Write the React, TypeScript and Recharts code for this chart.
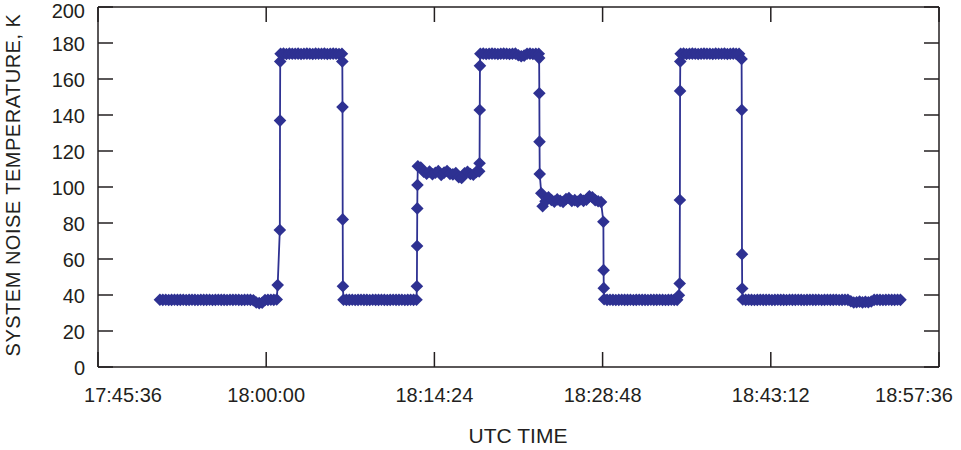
import React from "react";
import { LineChart, Line, XAxis, YAxis } from "recharts";

const FONT = "'Liberation Sans', Arial, Helvetica, sans-serif";
const INK = "#231f20";
const BLUE = "#2e3192";

// ---- axis ticks ----
const xTickLabels = ["17:45:36", "18:00:00", "18:14:24", "18:28:48", "18:43:12", "18:57:36"];
const yTicks = [0, 20, 40, 60, 80, 100, 120, 140, 160, 180, 200];
const yDomain = [0, 200];

// ---- data (system noise temperature, K) ----
// plateaus are sampled every SAMPLE_STEP seconds from their start time
const SAMPLE_STEP = 15;

const plateauAStart = "17:50:54";
const plateauA = [
  37.4, 37.3, 37.4, 37.2, 37.3, 37.4, 37.3, 37.3, 37.4, 37.2,
  37.3, 37.4, 37.3, 37.2, 37.4, 37.3, 37.3, 37.4, 37.2, 37.3,
  37.4, 37.3, 37.3, 37.2, 37.4, 37.3, 37.4, 37.3, 37.2, 37.3,
  37.4, 37.3, 37.1, 35.8, 35.5, 35.7, 37.2, 37.3, 37.4, 37.3,
  37.5,
];
const riseATimes = ["18:00:59", "18:01:10", "18:01:11", "18:01:12"];
const riseA = [45.5, 76.1, 136.9, 169.7];

const plateauBStart = "18:01:14";
const plateauB = [
  174.0, 174.1, 173.9, 174.1, 174.0, 174.0, 174.1, 173.9, 174.0, 174.1,
  174.0, 173.9, 174.1, 174.0, 174.0, 174.1, 173.9, 174.0, 174.1, 174.0,
  173.9, 174.0,
];
const fallBTimes = ["18:06:31", "18:06:32", "18:06:33", "18:06:34"];
const fallB = [169.7, 144.4, 82.0, 44.9];

const plateauCStart = "18:06:37";
const plateauC = [
  37.4, 37.3, 37.3, 37.4, 37.2, 37.3, 37.4, 37.3, 37.3, 37.2,
  37.4, 37.3, 37.3, 37.4, 37.3, 37.2, 37.3, 37.4, 37.3, 37.3,
  37.4, 37.2, 37.3, 37.4, 37.3, 37.4,
];
const riseCTimes = ["18:12:54", "18:12:55", "18:12:56", "18:12:57"];
const riseC = [44.9, 67.2, 88.1, 101.1];

const plateauDStart = "18:12:59";
const plateauD = [
  111.5, 110.8, 108.5, 107.4, 108.6, 107.1, 107.9, 108.8, 106.7, 108.0,
  108.9, 107.3, 107.0, 107.8, 105.4, 105.0, 107.6, 108.5, 107.2, 106.8,
  108.4, 108.7,
];
const riseDTimes = ["18:18:16", "18:18:17", "18:18:18"];
const riseD = [113.2, 142.8, 167.3];

const plateauEStart = "18:18:20";
const plateauE = [
  174.0, 174.1, 173.9, 174.0, 174.1, 174.0, 173.9, 174.0, 174.1, 174.0,
  173.9, 174.0, 174.1, 173.2, 172.6, 173.0, 174.0, 174.1, 173.9, 174.0,
  174.0,
];
const fallETimes = ["18:23:22", "18:23:23", "18:23:24", "18:23:25", "18:23:33"];
const fallE = [171.6, 152.1, 125.2, 107.2, 96.5];

const plateauFStart = "18:23:40";
const plateauF = [
  89.3, 92.1, 94.3, 92.8, 91.9, 93.1, 92.3, 91.7, 93.3, 93.9,
  92.2, 92.7, 91.8, 93.2, 92.3, 92.9, 94.8, 94.3, 92.7, 92.1,
  91.7,
];
const fallFTimes = ["18:28:52", "18:28:53", "18:28:54"];
const fallF = [80.7, 53.8, 43.8];

const plateauGStart = "18:28:56";
const plateauG = [
  37.6, 37.3, 37.4, 37.3, 37.2, 37.3, 37.4, 37.3, 37.3, 37.4,
  37.2, 37.3, 37.4, 37.3, 37.3, 37.2, 37.4, 37.3, 37.3, 37.4,
  37.3, 37.2, 37.3, 37.4, 37.3, 37.3,
];
const riseGTimes = ["18:35:20", "18:35:24", "18:35:25", "18:35:26", "18:35:27"];
const riseG = [39.9, 46.4, 92.8, 153.4, 169.7];

const plateauHStart = "18:35:29";
const plateauH = [
  174.0, 174.1, 173.9, 174.0, 174.1, 174.0, 173.9, 174.0, 174.1, 174.0,
  174.0, 173.9, 174.1, 174.0, 174.0, 174.1, 173.9, 174.0, 174.1, 174.0,
  174.0,
];
const fallHTimes = ["18:40:42", "18:40:43", "18:40:44", "18:40:45"];
const fallH = [171.1, 142.8, 62.7, 43.6];

const plateauIStart = "18:40:48";
const plateauI = [
  37.5, 37.3, 37.4, 37.3, 37.2, 37.3, 37.4, 37.3, 37.3, 37.4,
  37.2, 37.3, 37.4, 37.3, 37.3, 37.2, 37.4, 37.3, 37.3, 37.4,
  37.3, 37.2, 37.3, 37.4, 37.3, 37.3, 37.4, 37.2, 37.3, 37.4,
  37.3, 37.3, 37.4, 37.2, 37.3, 37.4, 37.3, 36.5, 35.8, 36.0,
  36.3, 35.9, 36.2, 36.0, 36.4, 37.3, 37.4, 37.3, 37.2, 37.3,
  37.4, 37.3, 37.3, 37.4, 37.3,
];

// ---- build the table ----
const toSec = (s: string) => {
  const [h, m, sec] = s.split(":").map(Number);
  return h * 3600 + m * 60 + sec;
};
const pad = (n: number) => String(n).padStart(2, "0");
const fmtTime = (t: number) =>
  `${pad(Math.floor(t / 3600))}:${pad(Math.floor((t % 3600) / 60))}:${pad(t % 60)}`;

type Row = { t: number; v: number };
const fromPlateau = (start: string, values: number[]): Row[] =>
  values.map((v, i) => ({ t: toSec(start) + i * SAMPLE_STEP, v }));
const fromTimes = (times: string[], values: number[]): Row[] =>
  values.map((v, i) => ({ t: toSec(times[i]), v }));

const data: Row[] = [
  ...fromPlateau(plateauAStart, plateauA),
  ...fromTimes(riseATimes, riseA),
  ...fromPlateau(plateauBStart, plateauB),
  ...fromTimes(fallBTimes, fallB),
  ...fromPlateau(plateauCStart, plateauC),
  ...fromTimes(riseCTimes, riseC),
  ...fromPlateau(plateauDStart, plateauD),
  ...fromTimes(riseDTimes, riseD),
  ...fromPlateau(plateauEStart, plateauE),
  ...fromTimes(fallETimes, fallE),
  ...fromPlateau(plateauFStart, plateauF),
  ...fromTimes(fallFTimes, fallF),
  ...fromPlateau(plateauGStart, plateauG),
  ...fromTimes(riseGTimes, riseG),
  ...fromPlateau(plateauHStart, plateauH),
  ...fromTimes(fallHTimes, fallH),
  ...fromPlateau(plateauIStart, plateauI),
];

const xTicks = xTickLabels.map(toSec);
const xDomain = [xTicks[0], xTicks[xTicks.length - 1]];

// ---- render helpers ----
const XTick = (props: any) => {
  const { x, y, payload } = props;
  const shift =
    payload.value === xTicks[0] ? 25 : payload.value === xTicks[xTicks.length - 1] ? -25 : 0;
  return (
    <text x={x + shift} y={y} dy="0.71em" textAnchor="middle" fill={INK} fontSize={20} fontFamily={FONT}>
      {fmtTime(payload.value)}
    </text>
  );
};

const YTick = (props: any) => {
  const { x, y, payload } = props;
  const extra = payload.value === yDomain[1] ? 4 : 1;
  return (
    <text x={x} y={y + extra} dy="0.36em" textAnchor="end" fill={INK} fontSize={20} fontFamily={FONT}>
      {payload.value}
    </text>
  );
};

const Diamond = (props: any) => {
  const { cx, cy, index } = props;
  if (cx == null || cy == null) return <g key={`d${index}`} />;
  const r = 6.3;
  return (
    <polygon
      key={`d${index}`}
      points={`${cx},${cy - r} ${cx + r},${cy} ${cx},${cy + r} ${cx - r},${cy}`}
      fill={BLUE}
      stroke="none"
    />
  );
};

const axisStroke = { stroke: INK, strokeWidth: 1.5 };

export default function App() {
  return (
    <div style={{ position: "relative", width: 961, height: 450, background: "#fff" }}>
      <style>{"body{margin:0;background:#fff}"}</style>
      <LineChart
        width={961}
        height={450}
        data={data}
        margin={{ top: 6, right: 21, bottom: 53, left: 38 }}
      >
        <XAxis
          xAxisId="b"
          dataKey="t"
          type="number"
          orientation="bottom"
          domain={xDomain}
          ticks={xTicks}
          interval={0}
          height={30}
          tickSize={-15}
          tickMargin={36}
          axisLine={axisStroke}
          tickLine={axisStroke}
          tick={(p: any) => <XTick {...p} />}
        />
        <XAxis
          xAxisId="t"
          dataKey="t"
          type="number"
          orientation="top"
          domain={xDomain}
          ticks={xTicks}
          interval={0}
          height={1}
          tickSize={-15}
          axisLine={axisStroke}
          tickLine={axisStroke}
          tick={() => <g />}
        />
        <YAxis
          yAxisId="l"
          type="number"
          domain={yDomain}
          ticks={yTicks}
          interval={0}
          width={60}
          tickSize={-15}
          tickMargin={28}
          axisLine={axisStroke}
          tickLine={axisStroke}
          tick={(p: any) => <YTick {...p} />}
        />
        <YAxis
          yAxisId="r"
          type="number"
          orientation="right"
          domain={yDomain}
          ticks={yTicks}
          interval={0}
          width={1}
          tickSize={-15}
          axisLine={axisStroke}
          tickLine={axisStroke}
          tick={() => <g />}
        />
        {/* invisible companion series so the mirrored frame axes render */}
        <Line
          xAxisId="t"
          yAxisId="r"
          dataKey="v"
          type="linear"
          stroke="none"
          strokeOpacity={0}
          dot={false}
          activeDot={false}
          legendType="none"
          isAnimationActive={false}
        />
        <Line
          xAxisId="b"
          yAxisId="l"
          dataKey="v"
          type="linear"
          stroke={BLUE}
          strokeWidth={1.8}
          dot={(p: any) => <Diamond key={`d${p.index}`} {...p} />}
          activeDot={false}
          isAnimationActive={false}
        />
      </LineChart>
      <div
        style={{
          position: "absolute",
          left: 518,
          top: 424,
          transform: "translateX(-50%)",
          fontFamily: FONT,
          fontSize: 21,
          color: INK,
          whiteSpace: "nowrap",
          lineHeight: "23px",
        }}
      >
        UTC TIME
      </div>
      <div
        style={{
          position: "absolute",
          left: 12.5,
          top: 185,
          transform: "translate(-50%, -50%) rotate(-90deg)",
          fontFamily: FONT,
          fontSize: 20,
          letterSpacing: 0.5,
          color: INK,
          whiteSpace: "nowrap",
          lineHeight: "23px",
        }}
      >
        SYSTEM NOISE TEMPERATURE, K
      </div>
    </div>
  );
}
